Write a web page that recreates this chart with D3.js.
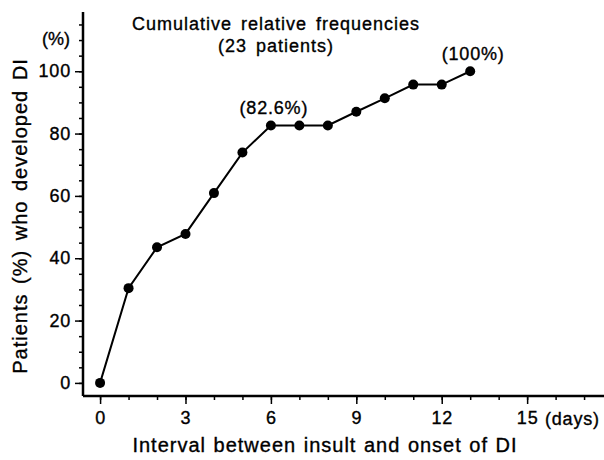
<!DOCTYPE html>
<html>
<head>
<meta charset="utf-8">
<script src="https://cdn.jsdelivr.net/npm/d3@7"></script>
<style>
  body { margin: 0; background: #fff; }
  svg text { font-family: "Liberation Sans", Arial, sans-serif; fill: #000; stroke: #000; stroke-width: 0.35px; }
</style>
</head>
<body>
<div id="chart"></div>
<script>
// days after insult and cumulative % of patients with DI (n = 23)
var days = [0, 1, 2, 3, 4, 5, 6, 7, 8, 9, 10, 11, 12, 13];
var cumPercent = [0, 30.4, 43.5, 47.8, 60.9, 73.9, 82.6, 82.6, 82.6, 87.0, 91.3, 95.7, 95.7, 100];
var xTicks = [0, 3, 6, 9, 12, 15];
var yTicks = [0, 20, 40, 60, 80, 100];
var notes = [{ day: 6, value: 82.6, label: "(82.6%)" }, { day: 13, value: 100, label: "(100%)" }];

var width = 604, height = 460;

var svg = d3.select("#chart")
  .append("svg")
  .attr("width", width)
  .attr("height", height);

var x = d3.scaleLinear().domain([-0.6, 17.7]).range([83, 604]);
var y = d3.scaleLinear().domain([-4.2, 119]).range([396, 12]);

// minor ticks first
svg.append("g")
  .attr("transform", "translate(83,0)")
  .call(d3.axisLeft(y).tickValues(d3.range(0, 120, 5)).tickSize(4).tickFormat(""))
  .call(function(g){ g.select(".domain").remove(); });
svg.append("g")
  .attr("transform", "translate(0,396)")
  .call(d3.axisBottom(x).tickValues(d3.range(0, 18, 1)).tickSize(4).tickFormat(""))
  .call(function(g){ g.select(".domain").remove(); });

var yAxis = svg.append("g")
  .attr("transform", "translate(83,0)")
  .call(d3.axisLeft(y).tickValues(yTicks).tickSize(8).tickPadding(4));
yAxis.select(".domain").attr("d", "M0," + y.range()[1] + "V" + y.range()[0]);

var xAxis = svg.append("g")
  .attr("transform", "translate(0,396)")
  .call(d3.axisBottom(x).tickValues(xTicks).tickSize(8).tickPadding(7));
xAxis.select(".domain").attr("d", "M" + x.range()[0] + ",0H" + x.range()[1]);

svg.selectAll(".domain").attr("stroke", "#000").attr("stroke-width", 2.5);
svg.selectAll(".tick line").attr("stroke", "#000").attr("stroke-width", 1.5);
svg.selectAll(".tick text")
  .style("font-family", "Liberation Sans, Arial, sans-serif")
  .style("font-size", "18px")
  .style("letter-spacing", "0.8px")
  .attr("fill", "#000");

svg.append("text")
  .attr("x", 545)
  .attr("y", 425)
  .style("font-size", "18px")
  .style("letter-spacing", "0.8px")
  .text("(days)");

svg.append("text")
  .attr("x", 56)
  .attr("y", 45)
  .attr("text-anchor", "middle")
  .style("font-size", "18px")
  .text("(%)");

// axis titles
svg.append("text")
  .attr("x", 325)
  .attr("y", 452)
  .attr("text-anchor", "middle")
  .style("font-size", "20px")
  .style("letter-spacing", "1px")
  .style("word-spacing", "1px")
  .text("Interval between insult and onset of DI");

svg.append("text")
  .attr("transform", "translate(27,216) rotate(-90)")
  .attr("text-anchor", "middle")
  .style("font-size", "20px")
  .style("letter-spacing", "1px")
  .style("word-spacing", "3px")
  .text("Patients (%) who developed DI");

// title
svg.append("text")
  .attr("x", 276)
  .attr("y", 30)
  .attr("text-anchor", "middle")
  .style("font-size", "18px")
  .style("letter-spacing", "1px")
  .style("word-spacing", "3px")
  .text("Cumulative relative frequencies");
svg.append("text")
  .attr("x", 276)
  .attr("y", 52)
  .attr("text-anchor", "middle")
  .style("font-size", "18px")
  .style("letter-spacing", "1px")
  .style("word-spacing", "3px")
  .text("(23 patients)");

// line and points
var data = days.map(function(d, i){ return { day: d, value: cumPercent[i] }; });

svg.append("path")
  .datum(data)
  .attr("fill", "none")
  .attr("stroke", "#000")
  .attr("stroke-width", 2)
  .attr("d", d3.line().x(function(d){ return x(d.day); }).y(function(d){ return y(d.value); }));

svg.selectAll("circle.pt")
  .data(data)
  .enter()
  .append("circle")
  .attr("class", "pt")
  .attr("cx", function(d){ return x(d.day); })
  .attr("cy", function(d){ return y(d.value); })
  .attr("r", 5)
  .attr("fill", "#000");

svg.selectAll("text.note")
  .data(notes)
  .enter()
  .append("text")
  .attr("class", "note")
  .attr("x", function(d){ return x(d.day) + 3; })
  .attr("y", function(d){ return y(d.value) - 11; })
  .attr("text-anchor", "middle")
  .style("font-size", "18px")
  .style("letter-spacing", "0.8px")
  .text(function(d){ return d.label; });
</script>
</body>
</html>
